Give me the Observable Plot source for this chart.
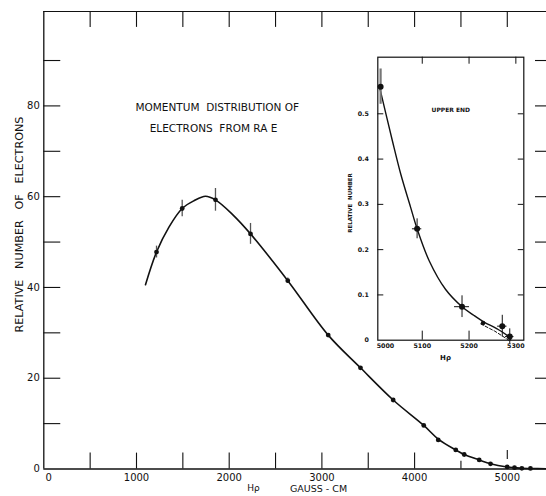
<!DOCTYPE html>
<html><head><meta charset="utf-8">
<script src="https://cdn.jsdelivr.net/npm/d3@7"></script>
<script src="https://cdn.jsdelivr.net/npm/@observablehq/plot@0.6"></script>
<style>
body{margin:0;background:#fff;overflow:hidden}
#wrap{position:relative;width:546px;height:496px;background:#fff}
#wrap > svg{position:absolute;left:0;top:0}
#wrap > svg.inset{left:340px;top:50px}
</style></head><body><div id="wrap"></div>
<script>
// ---- main chart data (H rho in gauss-cm, relative number of electrons) ----
const hrho   = [1216, 1493, 1852, 2230, 2632, 3068, 3416, 3769, 4099, 4255, 4444, 4535, 4697, 4819, 4999, 5078, 5157, 5250];
const counts = [47.8, 57.4, 59.3, 51.8, 41.5, 29.5, 22.3, 15.2, 9.6, 6.4, 4.2, 3.2, 2.0, 1.15, 0.45, 0.3, 0.15, 0.12];
const errH   = [1216, 1493, 1852, 2230, 2632];
const errN   = [47.8, 57.4, 59.3, 51.8, 41.5];
const errD   = [1.3, 1.8, 2.5, 2.3, 0.6];
// smooth fitted curve
const curveH = [1097, 1216, 1350, 1493, 1620, 1744, 1852, 2040, 2230, 2632, 3068, 3416, 3769, 4099, 4255, 4444, 4535, 4697, 4819, 4999, 5078, 5157, 5250, 5423];
const curveN = [40.6, 47.8, 53.3, 57.4, 59.1, 60.1, 59.3, 56.0, 51.8, 41.5, 29.5, 22.3, 15.2, 9.6, 6.6, 4.2, 3.2, 2.0, 1.15, 0.45, 0.3, 0.15, 0.1, 0.05];
// axis ticks
const xLabels     = [1000, 2000, 3000, 4000, 5000];
const yLabels     = [0, 20, 40, 60, 80];
const xTicksBot   = [500, 1000, 1500, 2000, 2500, 3000, 3500, 4000];
const xTicksTop   = [500, 1000, 1500, 2000, 2500, 3000, 3500, 4000, 4500, 5000];
const yTicks      = [10, 20, 30, 40, 50, 60, 70, 80, 90];

// ---- inset "upper end" data ----
const inH    = [5011, 5089, 5185, 5230, 5271, 5287];
const inN    = [0.560, 0.246, 0.074, 0.038, 0.031, 0.008];
const inDN   = [0.039, 0.022, 0.024, 0, 0.024, 0.017];
const inDH   = [5, 10, 16, 0, 10, 9];
const inCurveH = [5009, 5036, 5054, 5075, 5089, 5115, 5150, 5185, 5210, 5232, 5260, 5282, 5289];
const inCurveN = [0.558, 0.441, 0.367, 0.294, 0.246, 0.175, 0.112, 0.074, 0.055, 0.040, 0.025, 0.010, 0.001];
const inDashH = [5225, 5255, 5285];
const inDashN = [0.036, 0.020, 0.0];
const inXLabels = [5000, 5100, 5200, 5300];
const inYLabels = [0, 0.1, 0.2, 0.3, 0.4, 0.5];
const inYTicks  = [0.1, 0.2, 0.3, 0.4, 0.5];
const inXTicksTop = [5100, 5200, 5300];
const inXTicksBot = [5100, 5200];

const ink = "#111";
const pts = hrho.map((h, i) => ({h, n: counts[i]}));
const errs = errH.map((h, i) => ({h, lo: errN[i] - errD[i], hi: errN[i] + errD[i]}));
const curve = curveH.map((h, i) => ({h, n: curveN[i]}));

const main = Plot.plot({
  width: 546, height: 496,
  marginLeft: 43.3, marginRight: 0, marginTop: 11, marginBottom: 27.5,
  x: {domain: [0, 5423]},
  y: {domain: [0, 100.8]},
  style: {fontFamily: "DejaVu Sans, sans-serif", background: "white", color: ink},
  marks: [
    Plot.axisX(xLabels, {tickSize: 0, tickPadding: 4.5, fontSize: 10, tickFormat: "d", label: null}),
    Plot.axisX([0], {tickSize: 0, tickPadding: 4.5, fontSize: 10, tickFormat: "d", label: null, dx: 5}),
    Plot.axisY(yLabels, {tickSize: 0, tickPadding: 4, fontSize: 10, tickFormat: "d", label: null}),
    Plot.ruleY([0], {stroke: ink, strokeWidth: 1.3}),
    Plot.ruleY([100.8], {stroke: ink, strokeWidth: 1.2}),
    Plot.ruleX([0], {stroke: ink, strokeWidth: 1.3}),
    Plot.ruleX(xTicksBot, {y1: 0, y2: 3.5, stroke: ink, strokeWidth: 1.1}),
    Plot.ruleX([4500], {y1: 0, y2: 1.7, stroke: ink, strokeWidth: 1.1}),
    Plot.ruleX([5000], {y1: 2.1, y2: 4.1, stroke: ink, strokeWidth: 1.1}),
    Plot.ruleX(xTicksTop, {y1: 100.8 - 3.5, y2: 100.8, stroke: ink, strokeWidth: 1.1}),
    Plot.ruleY(yTicks, {x1: 0, x2: 183, stroke: ink, strokeWidth: 1.1}),
    Plot.ruleY(yTicks, {x1: 5423 - 119, x2: 5423, stroke: ink, strokeWidth: 1.1}),
    Plot.line(curve, {x: "h", y: "n", curve: "catmull-rom", stroke: ink, strokeWidth: 1.6}),
    Plot.ruleX(errs, {x: "h", y1: "lo", y2: "hi", stroke: "#555", strokeWidth: 1.3}),
    Plot.dot(pts, {x: "h", y: "n", r: 2.4, fill: ink}),
    Plot.text(["MOMENTUM  DISTRIBUTION OF"], {x: 1871, y: 79.6, fontSize: 10.5, ariaLabel: "t1", fill: ink}),
    Plot.text(["ELECTRONS  FROM RA E"], {x: 1831, y: 75.0, fontSize: 10.5, ariaLabel: "t2", fill: ink}),
    Plot.text(["RELATIVE   NUMBER   OF   ELECTRONS"], {frameAnchor: "left", textAnchor: "middle", lineAnchor: "middle", rotate: -90, dx: -24.3, dy: -15.7, fontSize: 11.2, ariaLabel: "ylab", fill: ink}),
    Plot.text(["Hρ"], {frameAnchor: "bottom-left", textAnchor: "middle", lineAnchor: "middle", dx: 253 - 43.3, dy: 19.5, fontSize: 9, ariaLabel: "xlab1", fill: ink}),
    Plot.text(["GAUSS - CM"], {frameAnchor: "bottom-left", textAnchor: "middle", lineAnchor: "middle", dx: 318 - 43.3, dy: 19.5, fontSize: 9.5, ariaLabel: "xlab2", fill: ink})
  ]
});

const inPts = inH.map((h, i) => ({h, n: inN[i], dn: inDN[i], dh: inDH[i], big: i !== 3}));
const inCurve = inCurveH.map((h, i) => ({h, n: inCurveN[i]}));
const inDash = inDashH.map((h, i) => ({h, n: inDashN[i]}));

const inset = Plot.plot({
  width: 190, height: 315,
  marginLeft: 37.3, marginRight: 6.7, marginTop: 6.7, marginBottom: 25.3,
  x: {domain: [5005, 5317]},
  y: {domain: [0, 0.625]},
  style: {fontFamily: "DejaVu Sans, sans-serif", background: "transparent", color: ink},
  marks: [
    Plot.frame({stroke: ink, strokeWidth: 1.2}),
    Plot.axisX(inXLabels.filter(d => d > 5000), {tickSize: 0, tickPadding: 3.8, fontSize: 6.3, fontWeight: "bold", tickFormat: "d", label: null}),
    Plot.text(inXLabels.filter(d => d === 5000), {x: d => d, frameAnchor: "bottom", dx: 10, dy: 7.5, fontSize: 6.3, fontWeight: "bold", text: d => String(d), fill: ink}),
    Plot.axisY(inYLabels, {tickSize: 0, tickPadding: 9, fontSize: 6.3, fontWeight: "bold", tickFormat: d => d === 0 ? "0" : d.toFixed(1), label: null}),
    Plot.ruleY(inYTicks, {x1: 5005, x2: 5005 + 12.8, stroke: ink}),
    Plot.ruleY(inYTicks, {x1: 5317 - 11.8, x2: 5317, stroke: ink}),
    Plot.ruleX(inXTicksTop, {y1: 0.625 - 0.0155, y2: 0.625, stroke: ink}),
    Plot.ruleX(inXTicksBot, {y1: 0, y2: 0.02, stroke: ink}),
    Plot.line(inCurve, {x: "h", y: "n", curve: "catmull-rom", stroke: ink, strokeWidth: 1.4}),
    Plot.line(inDash, {x: "h", y: "n", stroke: ink, strokeWidth: 1, strokeDasharray: "3,2"}),
    Plot.ruleX(inPts.filter(d => d.dn > 0), {x: "h", y1: d => d.n - d.dn, y2: d => Math.min(0.625, d.n + d.dn), stroke: (d, i) => i === 0 ? "#777" : ink, strokeWidth: (d, i) => i === 0 ? 2.2 : 1}),
    Plot.ruleY(inPts.filter(d => d.dh > 0), {y: "n", x1: d => d.h - d.dh, x2: d => d.h + d.dh, stroke: ink, strokeWidth: 1}),
    Plot.dot(inPts, {x: "h", y: "n", r: d => d.big ? 2.3 : 1.3, fill: ink}),
    Plot.text(["UPPER END"], {x: 5161, y: 0.509, fontSize: 6, fontWeight: "bold", ariaLabel: "ue", fill: ink}),
    Plot.text(["RELATIVE  NUMBER"], {frameAnchor: "left", textAnchor: "middle", lineAnchor: "middle", rotate: -90, dx: -27.3, dy: 4.3, fontSize: 5.5, fontWeight: "bold", ariaLabel: "iyl", fill: ink}),
    Plot.text(["Hρ"], {frameAnchor: "bottom-left", textAnchor: "middle", lineAnchor: "middle", dx: 445 - 377.3, dy: 17.5, fontSize: 7, fontWeight: "bold", ariaLabel: "ixl", fill: ink})
  ]
});
inset.classList.add("inset");

const wrap = document.getElementById("wrap");
wrap.appendChild(main);
wrap.appendChild(inset);

function fit(svg, label, len) {
  d3.select(svg).selectAll(`g[aria-label="${label}"] text`).attr("textLength", len).attr("lengthAdjust", "spacingAndGlyphs");
}
function sub(svg, label, base, s, rest, subSize, dy) {
  d3.select(svg).selectAll(`g[aria-label="${label}"] text`).each(function() {
    const t = d3.select(this);
    t.text(null);
    t.append("tspan").attr("fill", ink).text(base);
    t.append("tspan").attr("fill", ink).attr("font-size", subSize).attr("dy", dy).text(s);
    if (rest) t.append("tspan").attr("fill", ink).attr("dy", -dy).text(rest);
  });
}
sub(main, "t2", "ELECTRONS  FROM R", "A", " E", 6.5, 1.5);
sub(main, "xlab1", "H", "ρ", "", 7, 2);
sub(inset, "ixl", "H", "ρ", "", 6, 2);
fit(main, "t1", 155);
fit(main, "t2", 135);
fit(main, "ylab", 240);
fit(main, "xlab2", 50.5);
fit(inset, "ue", 42);
fit(inset, "iyl", 69);
</script></body></html>
